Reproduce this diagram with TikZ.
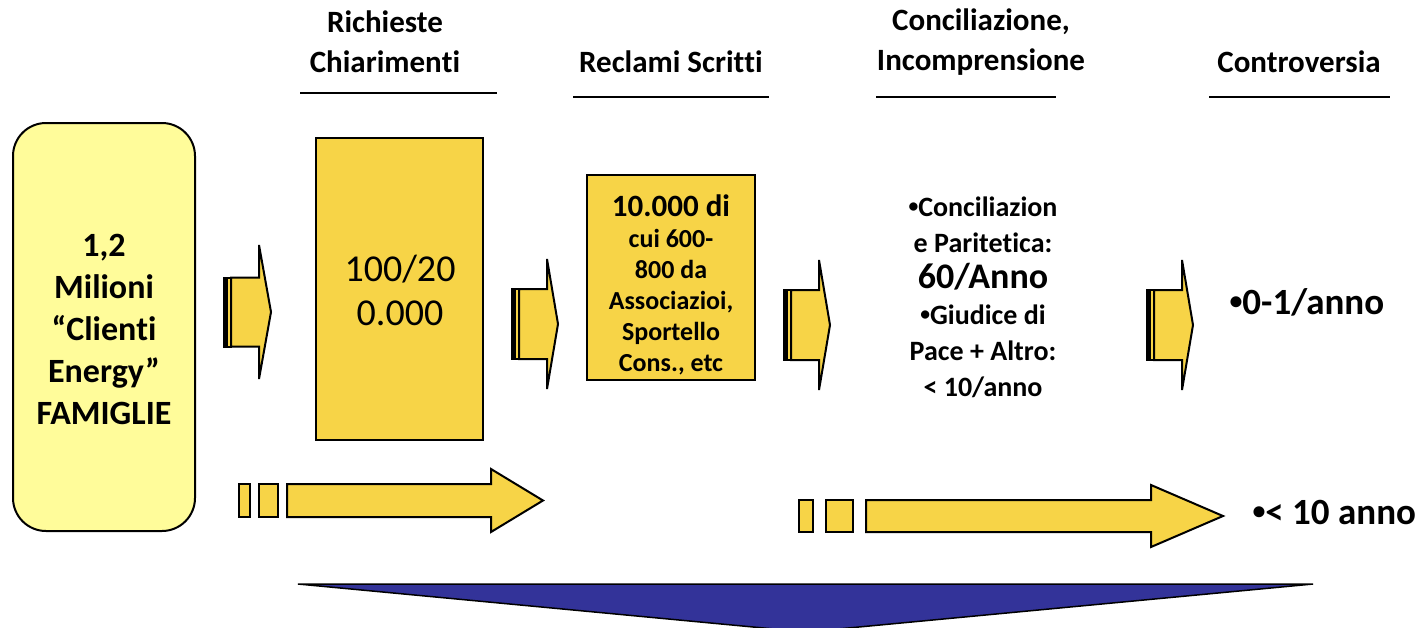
\documentclass[tikz,border=0pt]{standalone}
\usepackage{fontspec}
\setmainfont{Carlito}[Ligatures={NoCommon,NoRare,NoContextual}]
\definecolor{gold}{HTML}{F7D447}
\definecolor{paleyellow}{HTML}{FFFC9A}
\definecolor{navy}{HTML}{333399}
\newcommand\dotmark{\raisebox{0.12em}{\scalebox{0.7}{\textbullet}}}
% break the shaping run so t+i and t+t stay separate glyphs
\newcommand\nolig{\kern0pt }
\tikzset{
  outline/.style={draw=black, line width=2pt},
  goldbox/.style={outline, fill=gold, inner sep=0pt},
  arrowfill/.style={outline, fill=gold, line join=miter},
  header/.style={align=center, font=\bfseries\fontsize{31}{40}\selectfont},
  rule/.style={line width=1.5pt},
  bodytext/.style={align=center, font=\bfseries\fontsize{28}{36}\selectfont},
  dispute/.style={font=\bfseries\fontsize{37}{40}\selectfont, anchor=west},
}
% striped block arrow: #1 left x, #2 head base x, #3 tip x, #4 centre y,
% #5 body half height, #6 head half height
\newcommand\stripedarrow[6]{%
  \draw[arrowfill] (#1,#4-#5) rectangle (#1+7,#4+#5);
  \fill[black] (#1,#4-#5) rectangle (#1+4,#4+#5);
  \draw[arrowfill] (#1+7,#4-#5) -- (#2,#4-#5) -- (#2,#4-#6) -- (#3,#4)
    -- (#2,#4+#6) -- (#2,#4+#5) -- (#1+7,#4+#5) -- cycle;}
% dashed-tail block arrow: two lead rectangles then the arrow
% #1,#2 first rect x, #3,#4 second rect x, #5 body start, #6 head base,
% #7 tip, #8 top y, #9 bottom y
\newcommand\tailarrow[9]{%
  \draw[arrowfill] (#1,#8) rectangle (#2,#9);
  \draw[arrowfill] (#3,#8) rectangle (#4,#9);
  \draw[arrowfill] (#5,#8) -- (#6,#8) -- (#6,#8-15) -- (#7,{(#8+#9)/2})
    -- (#6,#9+15) -- (#6,#9) -- (#5,#9) -- cycle;}
\begin{document}
\begin{tikzpicture}[x=1pt, y=-1pt]
\useasboundingbox (0,0) rectangle (1423,627);

% column headers
\node[header] (h1) at (385,42) {Richieste\\Chiarimen\nolig t\nolig i};
\node[header] (h2) at (671,62) {Reclami Scrit\nolig t\nolig i};
\node[header] (h3) at (981,42) {Conciliazione,\\Incomprensione};
\node[header] (h4) at (1299,62) {Controversia};
\draw[rule] (300,93) -- (497,93);
\draw[rule] (573,97) -- (769,97);
\draw[rule] (876,97) -- (1056,97);
\draw[rule] (1209,97) -- (1390,97);

% households box
\draw[outline, fill=paleyellow, rounded corners=33pt] (13,123) rectangle (195,531);
\node[align=center, font=\bfseries\fontsize{34}{42}\selectfont] (fam) at (104,329)
  {1,2\\Milioni\\``Clien\nolig t\nolig i\\Energy''\\FAMIGLIE};

% requests box
\draw[goldbox] (316,138) rectangle (483,440);
\node[align=center, font=\fontsize{38}{44}\selectfont] (req) at (400,290) {100/20\\0.000};

% written complaints box
\draw[goldbox] (587,175) rectangle (755,380);
\node[align=center, font=\bfseries\fontsize{26}{31}\selectfont] (rec) at (671,285)
  {{\fontsize{31}{37}\selectfont 10.000 di}\\cui 600-\\800 da\\Associazioi,\\Sportello\\Cons., etc};

% conciliation text
\node[bodytext] (con) at (983,297)
  {\dotmark Conciliazion\\e Parite\nolig t\nolig ica:\\{\fontsize{36}{40}\selectfont 60/Anno}\\\dotmark Giudice di\\Pace + Altro:\\< 10/anno};

% dispute figures
\node[dispute] (c1) at (1226,302) {\dotmark 0-1/anno};
\node[dispute] (c2) at (1249,512) {\dotmark < 10 anno};

% step arrows
\stripedarrow{224}{259}{271}{312}{34.5}{67}
\stripedarrow{512}{547}{558}{324}{35}{65}
\stripedarrow{784}{819}{830}{325}{35}{65}
\stripedarrow{1147}{1182}{1193}{325}{35}{65}

% long arrows
\tailarrow{239}{250}{259}{278}{287}{491}{543}{484}{517}
\tailarrow{799}{813}{826}{853}{866}{1151}{1223}{500}{532}

% bottom funnel
\draw[line width=1.5pt, fill=navy] (298,584) -- (1313,584) -- (806,632) -- cycle;
\end{tikzpicture}
\end{document}
